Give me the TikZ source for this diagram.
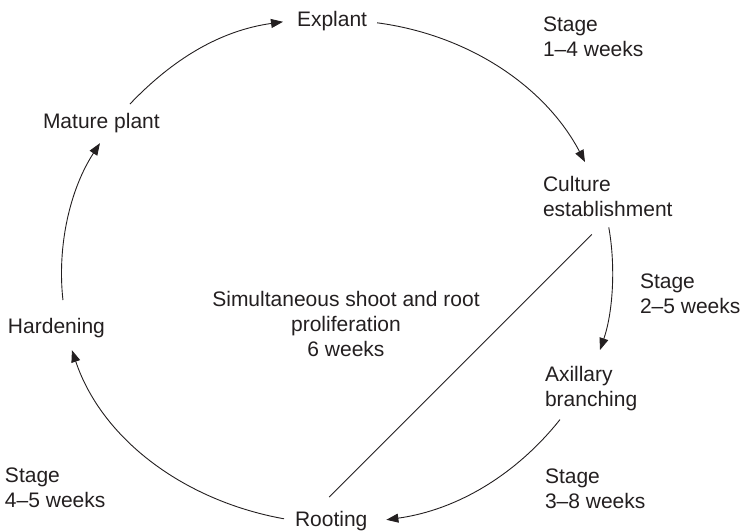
\documentclass[tikz,border=0pt]{standalone}
\usepackage{fontspec}
\setmainfont{Liberation Sans}
\usetikzlibrary{arrows.meta}
\definecolor{ink}{RGB}{35,31,32}
\begin{document}
\begin{tikzpicture}[x=1pt,y=-1pt,
  lbl/.style={inner sep=0pt, outer sep=0pt, align=left, anchor=north west, text=ink, font=\fontsize{21}{25}\selectfont},
  arr/.style={draw=ink, line width=0.9pt, -{Triangle[length=12pt,width=9pt]}},
  ln/.style={draw=ink, line width=0.9pt}]
\useasboundingbox (0,0) rectangle (742,531);
\node[lbl] (explant) at (297,11) {Explant};
\node[lbl] (stage1) at (543,17) {Stage\\1–4 weeks};
\node[lbl] (culture) at (543,176) {Culture\\establishment};
\node[lbl] (stage2) at (640,274) {Stage\\2–5 weeks};
\node[lbl] (axillary) at (545,366) {Axillary\\branching};
\node[lbl] (stage3) at (545,469) {Stage\\3–8 weeks};
\node[lbl] (rooting) at (295,511) {Rooting};
\node[lbl] (stage4) at (5,468) {Stage\\4–5 weeks};
\node[lbl] (hardening) at (8,318) {Hardening};
\node[lbl] (mature) at (43,113) {Mature plant};
\node[lbl, anchor=north, align=center] (center) at (346,291) {Simultaneous shoot and root\\proliferation\\6 weeks};

\draw[arr] ([shift={(10,2)}]explant.east) .. controls +(91,12) and +(-40,-76) .. ([shift={(42,-14)}]culture.north west);
\draw[arr] ([shift={(1,11)}]culture.south) .. controls +(7,39) and +(13,-38) .. ([shift={(55,-16)}]axillary.north west);
\draw[arr] ([shift={(15,9)}]axillary.south west) .. controls +(-43,54) and +(72,-10) .. ([shift={(19,-1)}]rooting.east);
\draw[arr] ([shift={(-11,-2)}]rooting.west) .. controls +(-100,-18) and +(30,89) .. ([shift={(15.5,12.6)}]hardening.south);
\draw[arr] ([shift={(6.5,-18)}]hardening.north) .. controls +(-6,-54) and +(-30,46) .. ([shift={(-1.4,10.6)}]mature.south);
\draw[arr] ([shift={(28.6,-9)}]mature.north) .. controls +(42,-44) and +(-64,9) .. ([shift={(-14,1)}]explant.west);
\draw[ln] ([shift={(-16,18)}]culture.south) -- ([shift={(-2,-14)}]rooting.north);
\end{tikzpicture}
\end{document}
